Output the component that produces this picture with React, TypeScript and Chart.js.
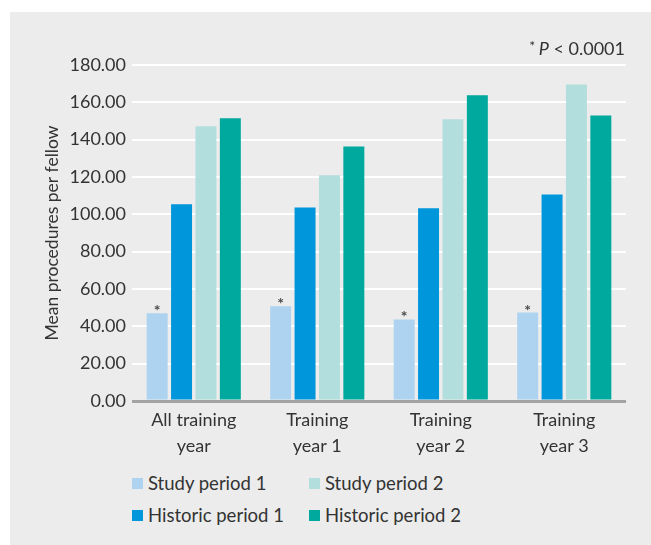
import React, { useEffect, useRef } from "react";
import { Chart, registerables } from "chart.js";
Chart.register(...registerables);

const categories: string[][] = [
  ["All training", "year"],
  ["Training", "year 1"],
  ["Training", "year 2"],
  ["Training", "year 3"],
];
const studyPeriod1 = [47.0, 50.7, 43.7, 47.4];
const historicPeriod1 = [105.4, 103.7, 103.2, 110.6];
const studyPeriod2 = [147.2, 120.9, 151.0, 169.6];
const historicPeriod2 = [151.5, 136.4, 163.8, 153.0];
const significantStudy1 = [true, true, true, true];
const yMin = 0;
const yMax = 180;
const yStep = 20;
const seriesNames = ["Study period 1", "Historic period 1", "Study period 2", "Historic period 2"];
const seriesColors = ["#aed3f0", "#0096db", "#b2dede", "#00a99d"];
const yTitle = "Mean procedures per fellow";
const noteStar = "*";
const noteP = "P";
const noteRest = " < 0.0001";
// legend display order (two rows of two)
const legendOrder = [0, 2, 1, 3];

const FONT = "Lato, 'Open Sans', sans-serif";
const TEXT = "#333333";

export default function App() {
  const ref = useRef<HTMLCanvasElement | null>(null);

  useEffect(() => {
    const canvas = ref.current;
    if (!canvas) return;
    const seriesData = [studyPeriod1, historicPeriod1, studyPeriod2, historicPeriod2];

    const starPlugin = {
      id: "stars",
      afterDatasetsDraw(chart: any) {
        const ctx = chart.ctx;
        const meta = chart.getDatasetMeta(0);
        ctx.save();
        ctx.fillStyle = "#4a4a4a";
        ctx.font = `bold 16px ${FONT}`;
        ctx.textAlign = "center";
        ctx.textBaseline = "alphabetic";
        meta.data.forEach((el: any, i: number) => {
          if (significantStudy1[i]) ctx.fillText("*", el.x, el.y + 3);
        });
        ctx.restore();
      },
    };

    const extrasPlugin = {
      id: "extras",
      afterDraw(chart: any) {
        const ctx = chart.ctx;
        const area = chart.chartArea;
        ctx.save();
        // y title
        ctx.fillStyle = TEXT;
        ctx.font = `17.5px ${FONT}`;
        ctx.textAlign = "center";
        ctx.textBaseline = "middle";
        ctx.translate(42, (area.top + area.bottom) / 2);
        ctx.rotate(-Math.PI / 2);
        ctx.fillText(yTitle, 0, 0);
        ctx.restore();

        // note
        ctx.save();
        ctx.fillStyle = TEXT;
        ctx.textBaseline = "alphabetic";
        ctx.textAlign = "left";
        const baseY = 43;
        const fs = 18;
        ctx.font = `${fs}px ${FONT}`;
        const restW = ctx.measureText(noteRest).width;
        ctx.font = `italic ${fs}px ${FONT}`;
        const pW = ctx.measureText(noteP).width;
        ctx.font = `14px ${FONT}`;
        const sW = ctx.measureText(noteStar + " ").width;
        const right = area.right - 1;
        let x = right - restW - pW - sW;
        ctx.fillText(noteStar + " ", x, baseY - 4);
        x += sW;
        ctx.font = `italic ${fs}px ${FONT}`;
        ctx.fillText(noteP, x, baseY);
        x += pW;
        ctx.font = `${fs}px ${FONT}`;
        ctx.fillText(noteRest, x, baseY);
        ctx.restore();
      },
    };

    const chart = new Chart(canvas, {
      type: "bar",
      data: {
        labels: categories,
        datasets: seriesNames.map((name, i) => ({
          label: name,
          data: seriesData[i],
          backgroundColor: seriesColors[i],
          borderWidth: 0,
          categoryPercentage: 0.79,
          barPercentage: 0.86,
        })),
      },
      options: {
        responsive: false,
        animation: false,
        layout: { padding: { top: 53, right: 25, left: 0, bottom: 0 } },
        plugins: {
          legend: { display: false },
          tooltip: { enabled: false },
        },
        scales: {
          x: {
            grid: { display: false, drawTicks: false, tickLength: 0 },
            border: { display: false },
            ticks: {
              color: TEXT,
              font: { family: FONT, size: 18, lineHeight: "26px" },
              padding: 6,
              maxRotation: 0,
              autoSkip: false,
            },
            afterFit: (s: any) => {
              s.height = 71;
            },
          },
          y: {
            min: yMin,
            max: yMax,
            ticks: {
              stepSize: yStep,
              color: TEXT,
              font: { family: FONT, size: 18 },
              padding: 6,
              callback: (v: any) => Number(v).toFixed(2),
            },
            grid: {
              drawTicks: false,
              color: (c: any) => (c.tick && c.tick.value === 0 ? "#a3a3a3" : "#ffffff"),
              lineWidth: (c: any) => (c.tick && c.tick.value === 0 ? 3 : 2),
            },
            border: { display: false },
            afterFit: (s: any) => {
              s.width = 122;
            },
          },
        },
      },
      plugins: [starPlugin, extrasPlugin],
    } as any);
    return () => chart.destroy();
  }, []);

  return (
    <div
      style={{
        position: "absolute",
        left: 10,
        top: 12,
        width: 641,
        height: 533,
        background: "#ebeceb",
        fontFamily: FONT,
      }}
    >
      <canvas ref={ref} width={641} height={460} style={{ width: 641, height: 460, display: "block" }} />
      {legendOrder.map((idx, k) => {
        const col = k % 2;
        const row = Math.floor(k / 2);
        return (
          <div
            key={idx}
            style={{
              position: "absolute",
              left: col === 0 ? 122 : 299,
              top: row === 0 ? 460 : 492,
              height: 22,
              display: "flex",
              alignItems: "center",
              fontSize: 18.5,
              color: TEXT,
              whiteSpace: "nowrap",
            }}
          >
            <span
              style={{
                display: "inline-block",
                width: 11,
                height: 11,
                background: seriesColors[idx],
                marginRight: 5,
              }}
            />
            {seriesNames[idx]}
          </div>
        );
      })}
    </div>
  );
}
